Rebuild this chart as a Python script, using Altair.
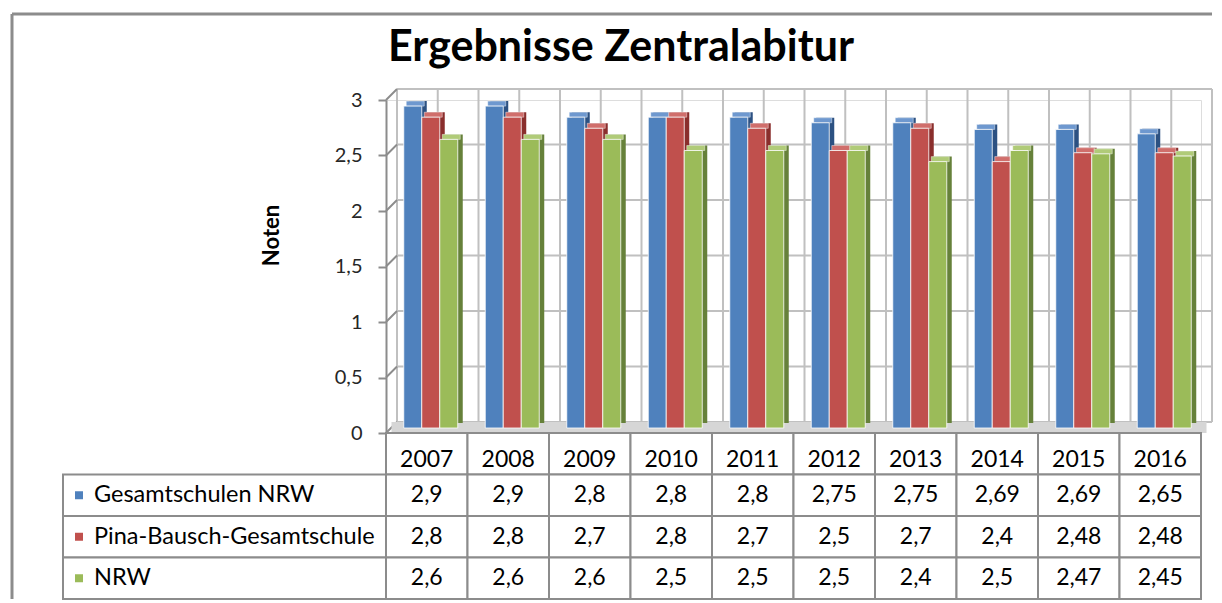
import altair as alt
import pandas as pd

# ---------------- data ----------------
years = ["2007", "2008", "2009", "2010", "2011", "2012", "2013", "2014", "2015", "2016"]
series = ["Gesamtschulen NRW", "Pina-Bausch-Gesamtschule", "NRW"]
gesamtschulen_nrw = [2.9, 2.9, 2.8, 2.8, 2.8, 2.75, 2.75, 2.69, 2.69, 2.65]
pina_bausch = [2.8, 2.8, 2.7, 2.8, 2.7, 2.5, 2.7, 2.4, 2.48, 2.48]
nrw = [2.6, 2.6, 2.6, 2.5, 2.5, 2.5, 2.4, 2.5, 2.47, 2.45]
y_ticks = [0, 0.5, 1, 1.5, 2, 2.5, 3]
title_text = "Ergebnisse Zentralabitur"
y_title = "Noten"

# ---------------- style ----------------
front_colors = ["#4F81BD", "#C0504D", "#9BBB59"]
side_colors = ["#2C5182", "#8A2E2C", "#66813A"]
top_colors = ["#6E98CF", "#D06E6B", "#B0CB78"]
FONT = "Lato"
W, H = 815, 333          # plot area
HB = 166                 # table height
D = 11                   # depth of the 3D walls (px)
GRID = "#c0c0c0"
LINE = "#8c8c8c"
STEP = 81.5              # px per year column
BAR = 18 / STEP          # bar width in column units
PAD = 13.75 / STEP       # left padding inside a column
LABEL_W = 323 / STEP     # width of the legend column, in column units
LIFT = 5                 # bars stand on the floor, a bit behind its front edge

values = [gesamtschulen_nrw, pina_bausch, nrw]
rows = []
for s_i, (s, vals) in enumerate(zip(series, values)):
    for c_i, (yr, v) in enumerate(zip(years, vals)):
        rows.append({
            "year": yr, "series": s, "value": v,
            "row": s_i + 1, "col": c_i, "idx": s_i,
            "label": str(v).replace(".", ","),
            "front": front_colors[s_i], "side": side_colors[s_i], "top": top_colors[s_i],
        })
df = pd.DataFrame(rows)
ticks_df = pd.DataFrame({"v": y_ticks})
years_df = pd.DataFrame({"year": years, "col": list(range(len(years)))})
series_df = pd.DataFrame({"name": series, "row": [1, 2, 3], "color": front_colors})
one = pd.DataFrame({"a": [0]})

# ---------------- scales / encodings ----------------
x_scale = alt.Scale(domain=[0, len(years)], nice=False, zero=False)
y_scale = alt.Scale(domain=[0, 3], nice=False)

y_axis = alt.Axis(
    values=y_ticks,
    labelExpr="replace(format(datum.value, '~g'), '.', ',')",
    labelFont=FONT, labelFontSize=20, labelColor="#262626", labelPadding=16,
    tickSize=8, tickColor=LINE, tickWidth=2,
    domainColor=LINE, domainWidth=2, grid=False,
    title=y_title, titleFont=FONT, titleFontSize=22, titleFontWeight="bold",
    titleColor="#000000", titleX=-115, titleY=135, titleAlign="center",
    titleBaseline="middle", titleAngle=270,
)


def yq(field):
    return alt.Y(field, scale=y_scale, axis=y_axis)


def yd(v):
    return alt.YDatum(v, scale=y_scale, axis=y_axis)


def xq(field):
    return alt.X(field, scale=x_scale, axis=None)


bars = alt.Chart(df).transform_calculate(
    x0=f"datum.col + {PAD} + datum.idx * {BAR}",
    x1=f"datum.col + {PAD} + (datum.idx + 1) * {BAR}",
)

# ---------------- 3D frame: floor, walls, grid ----------------
floor = alt.Chart(one).mark_rect(color="#d6d6d6", xOffset=D / 2, x2Offset=D / 2, yOffset=-D).encode(
    x=alt.value(0), x2=alt.value(W),
    y=yd(0), y2=alt.Y2Datum(0),
)

back_h = alt.Chart(ticks_df).mark_rule(color=GRID, strokeWidth=2, xOffset=D, x2Offset=D, yOffset=-D).encode(
    x=alt.value(0), x2=alt.value(W), y=yq("v:Q"),
)

left_wall = alt.Chart(ticks_df).mark_rule(color=LINE, strokeWidth=2, x2Offset=D, y2Offset=-D).encode(
    x=alt.value(0), x2=alt.value(0), y=yq("v:Q"), y2=alt.Y2("v:Q"),
)

back_v = alt.Chart(years_df).transform_calculate(
    half="datum.col + 0.5"
).transform_fold(["col", "half"], as_=["kind", "xv"]).mark_rule(
    color=GRID, strokeWidth=2, xOffset=D, yOffset=-D, y2Offset=-D
).encode(
    x=xq("xv:Q"), y=yd(3), y2=alt.Y2Datum(0),
)
back_end = alt.Chart(one).mark_rule(color=GRID, strokeWidth=2, xOffset=D, yOffset=-D, y2Offset=-D).encode(
    x=alt.XDatum(len(years), scale=x_scale, axis=None), y=yd(3), y2=alt.Y2Datum(0),
)

# ---------------- 3D bars ----------------
SH = 4      # horizontal shift of the front faces (perspective)
DEP = 5     # bar depth
bar_side = bars.mark_rect(xOffset=SH + DEP, x2Offset=SH + DEP, yOffset=-DEP - LIFT, y2Offset=-DEP - LIFT).encode(
    x=xq("x0:Q"), x2="x1:Q", y=yq("value:Q"), y2=alt.Y2Datum(0),
    color=alt.Color("side:N", scale=None),
)
bar_top = bars.mark_rect(xOffset=SH + DEP / 2, x2Offset=SH + DEP / 2, yOffset=-DEP - LIFT, y2Offset=-LIFT,
                         stroke="white", strokeWidth=0.6, strokeOpacity=0.7).encode(
    x=xq("x0:Q"), x2="x1:Q", y=yq("value:Q"), y2=alt.Y2("value:Q"),
    color=alt.Color("top:N", scale=None),
)
bar_front = bars.mark_rect(xOffset=SH, x2Offset=SH, yOffset=-LIFT, y2Offset=-LIFT,
                           stroke="white", strokeWidth=1, strokeOpacity=0.8).encode(
    x=xq("x0:Q"), x2="x1:Q", y=yq("value:Q"), y2=alt.Y2Datum(0),
    color=alt.Color("front:N", scale=None),
)

# ---------------- title & outer frame ----------------
title = alt.Chart(one).mark_text(text=title_text, font=FONT, fontSize=43, fontWeight="bold",
                                 color="#000000", align="center", baseline="middle").encode(
    x=alt.value(235), y=alt.value(-52)
)
frame_left_top = alt.Chart(one).mark_rule(color=LINE, strokeWidth=3).encode(
    x=alt.value(-374), y=alt.value(-86), y2=alt.value(H)
)
frame_top = alt.Chart(one).mark_rule(color=LINE, strokeWidth=3).encode(
    x=alt.value(-374), x2=alt.value(826), y=alt.value(-86)
)

top = alt.layer(
    frame_left_top, frame_top, title,
    back_h, back_v, back_end, left_wall, floor,
    bar_side, bar_top, bar_front,
).properties(width=W, height=H)

# ---------------- data table ----------------
cells = []
for r in range(4):
    for c in range(len(years)):
        cells.append({"x0": c, "x1": c + 1, "y0": r, "y1": r + 1})
for r in range(1, 4):
    cells.append({"x0": -LABEL_W, "x1": 0, "y0": r, "y1": r + 1})
cells_df = pd.DataFrame(cells)

xb = alt.Scale(domain=[0, len(years)], nice=False, zero=False)
yb = alt.Scale(domain=[0, 4], nice=False, zero=False, reverse=True)

grid_cells = alt.Chart(cells_df).mark_rect(fill="white", stroke=LINE, strokeWidth=2).encode(
    x=alt.X("x0:Q", scale=xb, axis=None), x2="x1:Q",
    y=alt.Y("y0:Q", scale=yb, axis=None), y2="y1:Q",
)
year_text = alt.Chart(years_df).transform_calculate(
    xc="datum.col + 0.5", yc="0.5"
).mark_text(font=FONT, fontSize=23, color="#000000", baseline="middle", dy=6).encode(
    x=alt.X("xc:Q", scale=xb, axis=None), y=alt.Y("yc:Q", scale=yb, axis=None), text="year:N"
)
value_text = alt.Chart(df).transform_calculate(
    xc="datum.col + 0.5", yc="datum.row + 0.5"
).mark_text(font=FONT, fontSize=23, color="#000000", baseline="middle").encode(
    x=alt.X("xc:Q", scale=xb, axis=None), y=alt.Y("yc:Q", scale=yb, axis=None), text="label:N"
)
legend_sq = alt.Chart(series_df).transform_calculate(
    xl=str(-LABEL_W), yc="datum.row + 0.5"
).mark_square(size=64, xOffset=16, opacity=1, filled=True).encode(
    x=alt.X("xl:Q", scale=xb, axis=None), y=alt.Y("yc:Q", scale=yb, axis=None),
    color=alt.Color("color:N", scale=None),
)
legend_txt = alt.Chart(series_df).transform_calculate(
    xl=str(-LABEL_W), yc="datum.row + 0.5"
).mark_text(font=FONT, fontSize=23.5, color="#000000", align="left", baseline="middle", dx=31).encode(
    x=alt.X("xl:Q", scale=xb, axis=None), y=alt.Y("yc:Q", scale=yb, axis=None), text="name:N"
)
frame_left_bottom = alt.Chart(one).mark_rule(color=LINE, strokeWidth=3).encode(
    x=alt.value(-374), y=alt.value(0), y2=alt.value(HB)
)

bottom = alt.layer(
    frame_left_bottom, grid_cells, year_text, value_text, legend_sq, legend_txt
).properties(width=W, height=HB)

chart = alt.vconcat(top, bottom, spacing=0, bounds="flush").properties(
    padding={"left": 2, "top": 4, "right": 0, "bottom": 0}
).configure_view(stroke=None).configure(background="white")

chart.save("out.html", embed_options={"renderer": "svg", "actions": False})
